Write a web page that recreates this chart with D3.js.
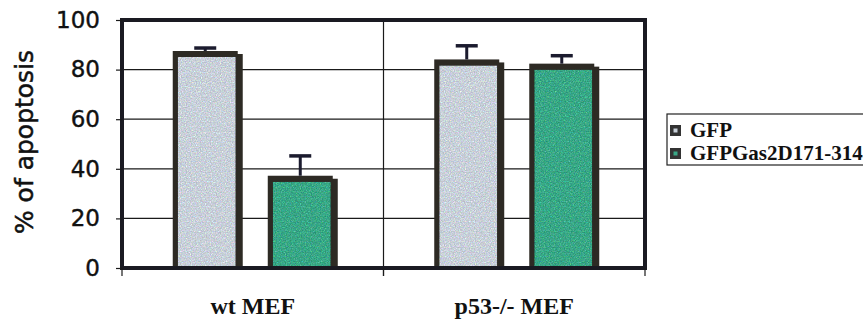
<!DOCTYPE html>
<html>
<head>
<meta charset="utf-8">
<script src="https://cdn.jsdelivr.net/npm/d3@7/dist/d3.min.js"></script>
<style>
  html, body { margin: 0; padding: 0; background: #ffffff; }
  svg { display: block; }
</style>
</head>
<body>
<svg id="chart" width="863" height="324"></svg>
<script>
// ---------- data ----------
const categories = ["wt MEF", "p53-/- MEF"];
const seriesNames = ["GFP", "GFPGas2D171-314"];
const gfpValues = [87.5, 84.1];
const gasValues = [37.2, 82.4];
const gfpErrors = [1.2, 5.5];
const gasErrors = [8.0, 3.2];
const yTicks = [0, 20, 40, 60, 80, 100];

// ---------- layout ----------
const plot = { left: 122, right: 645, top: 20, bottom: 268 };
const seriesFill = { "GFP": "#c8d0d9", "GFPGas2D171-314": "#38a786" };
const frameColor = "#2d2a24";
const errColor = "#1b1b2e";

const svg = d3.select("#chart");

// speckle filter to imitate the scanned texture (approximately zero-mean colored noise)
const defs = svg.append("defs");
const f = defs.append("filter").attr("id", "speckle").attr("x", 0).attr("y", 0).attr("width", 1).attr("height", 1)
  .attr("color-interpolation-filters", "sRGB");
f.append("feTurbulence").attr("type", "fractalNoise").attr("baseFrequency", 0.8).attr("numOctaves", 2).attr("seed", 5).attr("result", "noise");
f.append("feComposite").attr("in", "SourceGraphic").attr("in2", "noise").attr("operator", "arithmetic")
  .attr("k1", 0).attr("k2", 1).attr("k3", 0.55).attr("k4", -0.135).attr("result", "mix");
f.append("feComposite").attr("in", "mix").attr("in2", "SourceGraphic").attr("operator", "in");

const x0 = d3.scaleBand().domain(categories).range([plot.left, plot.right]).paddingInner(0).paddingOuter(0);
const x1 = d3.scaleBand().domain(seriesNames).range([0, x0.bandwidth()]).paddingInner(0.316).paddingOuter(0.534);
const y = d3.scaleLinear().domain([0, 100]).range([plot.bottom, plot.top]);

// gridlines
svg.append("g").selectAll("line").data(yTicks.filter(t => t > 0 && t < 100)).join("line")
  .attr("x1", plot.left).attr("x2", plot.right)
  .attr("y1", d => y(d)).attr("y2", d => y(d))
  .attr("stroke", "#1a1a1a").attr("stroke-width", 1.2);

// category divider
svg.append("line")
  .attr("x1", x0(categories[1])).attr("x2", x0(categories[1]))
  .attr("y1", plot.top).attr("y2", plot.bottom + 8)
  .attr("stroke", "#1a1a1a").attr("stroke-width", 1.2);

// bars
const rows = [];
categories.forEach((c, i) => {
  rows.push({ cat: c, s: seriesNames[0], v: gfpValues[i], e: gfpErrors[i] });
  rows.push({ cat: c, s: seriesNames[1], v: gasValues[i], e: gasErrors[i] });
});

const bw = x1.bandwidth();
const bars = svg.append("g").selectAll("g").data(rows).join("g")
  .attr("transform", d => `translate(${x0(d.cat) + x1(d.s)},0)`);

// shadow
bars.append("rect")
  .attr("x", 5).attr("y", d => y(d.v) + 3)
  .attr("width", bw).attr("height", d => plot.bottom - y(d.v) - 3)
  .attr("fill", frameColor);
// frame
bars.append("rect")
  .attr("x", 0).attr("y", d => y(d.v))
  .attr("width", bw).attr("height", d => plot.bottom - y(d.v))
  .attr("fill", frameColor);
// fill
bars.append("rect")
  .attr("x", 5).attr("y", d => y(d.v) + 6)
  .attr("width", bw - 7).attr("height", d => plot.bottom - y(d.v) - 6)
  .attr("fill", d => seriesFill[d.s])
  .attr("filter", "url(#speckle)");

// error bars (upper only)
bars.append("line")
  .attr("x1", bw / 2).attr("x2", bw / 2)
  .attr("y1", d => y(d.v)).attr("y2", d => y(d.v + d.e))
  .attr("stroke", errColor).attr("stroke-width", 3);
bars.append("line")
  .attr("x1", bw / 2 - 11).attr("x2", bw / 2 + 11)
  .attr("y1", d => y(d.v + d.e)).attr("y2", d => y(d.v + d.e))
  .attr("stroke", errColor).attr("stroke-width", 3.5);

// plot border
svg.append("rect")
  .attr("x", plot.left).attr("y", plot.top)
  .attr("width", plot.right - plot.left).attr("height", plot.bottom - plot.top)
  .attr("fill", "none").attr("stroke", "#1a1a22").attr("stroke-width", 4);

// y axis
const yAxis = svg.append("g")
  .attr("transform", `translate(${plot.left},0)`)
  .call(d3.axisLeft(y).tickValues(yTicks).tickSize(6).tickPadding(16));
yAxis.select(".domain").remove();
yAxis.selectAll(".tick line").attr("stroke", "#1a1a1a").attr("stroke-width", 1.2);
yAxis.selectAll(".tick text")
  .attr("font-family", "DejaVu Sans, sans-serif").attr("font-size", 23).attr("fill", "#111")
  .attr("stroke", "#111").attr("stroke-width", 0.4);

// x axis (ticks at category boundaries, labels centered)
const boundaries = [plot.left, x0(categories[1]), plot.right];
svg.append("g").selectAll("line").data(boundaries).join("line")
  .attr("x1", d => d).attr("x2", d => d)
  .attr("y1", plot.bottom).attr("y2", plot.bottom + 8)
  .attr("stroke", "#1a1a1a").attr("stroke-width", 1.2);
svg.append("g").selectAll("text").data(categories).join("text")
  .attr("x", d => x0(d) + x0.bandwidth() / 2).attr("y", 314)
  .attr("text-anchor", "middle")
  .attr("font-family", "Liberation Serif, Times New Roman, serif")
  .attr("font-weight", "bold").attr("font-size", 24).attr("fill", "#111")
  .text(d => d);

// y title
svg.append("text")
  .attr("transform", "translate(33,142) rotate(-90)")
  .attr("text-anchor", "middle")
  .attr("font-family", "DejaVu Sans, sans-serif").attr("font-size", 25).attr("fill", "#111")
  .attr("stroke", "#111").attr("stroke-width", 0.5)
  .text("% of apoptosis");

// legend
const leg = svg.append("g");
leg.append("rect").attr("x", 667).attr("y", 114).attr("width", 210).attr("height", 51)
  .attr("fill", "#fff").attr("stroke", "#222").attr("stroke-width", 1.2);
const li = leg.selectAll("g").data(seriesNames).join("g")
  .attr("transform", (d, i) => `translate(670,${130 + i * 23})`);
li.append("rect").attr("x", 0).attr("y", -5).attr("width", 11).attr("height", 11).attr("fill", "#333");
li.append("rect").attr("x", 3.5).attr("y", -1.5).attr("width", 4).attr("height", 4).attr("fill", d => seriesFill[d]);
li.append("text").attr("x", 20).attr("y", 7)
  .attr("font-family", "Liberation Serif, Times New Roman, serif")
  .attr("font-weight", "bold").attr("font-size", 21).attr("fill", "#111")
  .text(d => d);
</script>
</body>
</html>
